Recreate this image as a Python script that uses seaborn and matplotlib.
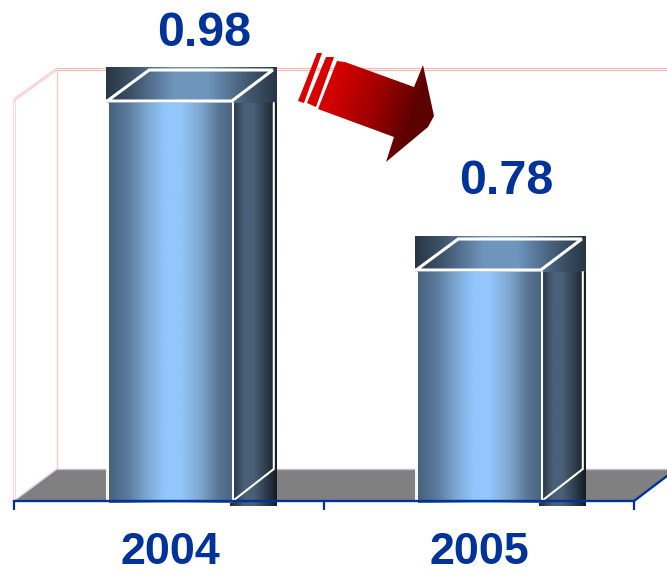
import numpy as np
import pandas as pd
import matplotlib
matplotlib.use("Agg")
import matplotlib.pyplot as plt
from matplotlib.colors import LinearSegmentedColormap
from matplotlib.patches import Polygon
from matplotlib.transforms import Affine2D
import seaborn as sns

years = ["2004", "2005"]
values = [0.98, 0.78]

W, H = 667, 571
BLUE = "#003399"
sns.set_theme(style="white")
plt.rcParams["font.family"] = ["Liberation Sans", "DejaVu Sans"]

fig = plt.figure(figsize=(W / 100, H / 100), dpi=100, facecolor="white")
# background layer in pixel coordinates: chart walls and floor
bg = fig.add_axes([0, 0, 1, 1], zorder=0)
bg.set_xlim(0, W)
bg.set_ylim(H, 0)
bg.axis("off")
bg.add_patch(Polygon([(14, 501), (57, 469), (667, 469), (667, 476), (634, 501)], color="#808080", lw=0))
for y in (68, 70):
    bg.plot([57, 667], [y, y], color="#f6bcbc", lw=0.9)
bg.plot([57, 57], [69, 469], color="#f3c8cc", lw=1)
bg.plot([13, 13], [100, 501], color="#f3dcdc", lw=0.8)
bg.plot([15, 15], [100, 501], color="#f3dcdc", lw=0.8)
bg.plot([14, 57], [99, 68], color="#f6c8c8", lw=0.8)
bg.plot([14, 57], [101, 70], color="#f6c8c8", lw=0.8)
bg.plot([57, 667], [468.5, 468.5], color="#cdb8c8", lw=1)
bg.plot([14, 57], [501, 469], color="#d8c8dc", lw=1)

# main axes: x from 14 to 634 px, y baseline at 501 px
ax = fig.add_axes([14 / W, (H - 501) / H, 620 / W, 501 / H], zorder=1)
ax.patch.set_alpha(0)
df = pd.DataFrame({"year": years, "value": values})
sns.barplot(data=df, x="year", y="value", color="#6f95bd", width=0.4, saturation=1, ax=ax)

SCALE_X, SCALE_Y = 309.0, 845.0
x_lo = -(170 - 14) / SCALE_X
x_hi = x_lo + 620 / SCALE_X
y_lo = 0.98 - (501 - 101) / SCALE_Y
y_hi = y_lo + 501 / SCALE_Y
ax.set_xlim(x_lo, x_hi)
ax.set_ylim(y_lo, y_hi)
ax.set_autoscale_on(False)
ax.set_xlabel("")
ax.set_ylabel("")
ax.set_yticks([])
for side in ("top", "left", "right"):
    ax.spines[side].set_visible(False)
ax.spines["bottom"].set_color(BLUE)
ax.spines["bottom"].set_linewidth(1.7)
ax.spines["bottom"].set_zorder(10)
ax.set_xticks([0, 1], years)
ax.set_xticks([x_lo, (x_lo + x_hi) / 2, x_hi], minor=True)
ax.tick_params(axis="x", which="major", length=0, pad=22, labelsize=32.3, labelcolor=BLUE)
ax.tick_params(axis="x", which="minor", length=6.5, width=1.6, color=BLUE, bottom=True)
for t in ax.get_xticklabels():
    t.set_fontweight("bold")

to_px = Affine2D().scale(1, -1).translate(0, H)  # image-style pixel coordinates to display


def p2d(x, y):
    disp = to_px.transform((x, y))
    return ax.transData.inverted().transform(disp)


def gradient(x0, x1, y0, y1, stops, z):
    cmap = LinearSegmentedColormap.from_list("g", stops, N=256)
    (dx0, dy0), (dx1, dy1) = p2d(x0, y1), p2d(x1, y0)
    img = np.linspace(0, 1, 256)[None, :]
    ax.imshow(img, cmap=cmap, extent=[dx0, dx1, dy0, dy1], aspect="auto",
              origin="lower", zorder=z, clip_on=False, interpolation="bilinear")


FRONT = [(0, "#46627f"), (.15, "#5b7a9c"), (.3, "#7ca6d0"), (.45, "#93c6fc"),
         (.58, "#93c6fc"), (.74, "#7fa6cf"), (.88, "#5a7895"), (1, "#46627f")]
SIDE = [(0, "#1f2a36"), (.3, "#4a6078"), (.5, "#4a6078"), (.8, "#2a3846"), (1, "#141c24")]
TOP = [(0, "#283644"), (.15, "#3c5268"), (.4, "#6f95bd"), (.6, "#6f95bd"), (.8, "#47607a"), (1, "#283644")]

DX, DY = 42, 32
for bar, val in zip(ax.patches, values):
    x0d, x1d = bar.get_x(), bar.get_x() + bar.get_width()
    L = to_px.inverted().transform(ax.transData.transform((x0d, val)))[0]
    R = to_px.inverted().transform(ax.transData.transform((x1d, val)))[0]
    T = to_px.inverted().transform(ax.transData.transform((x0d, val)))[1]
    B = 501
    gradient(R - 2, R + 45, T + 1, B + 5, SIDE, 3)
    gradient(L + 0.5, R, T + 1, B + 2, FRONT, 4)
    gradient(L - 2, R + 45, T - 34, T + 2, TOP, 5)
    white = dict(color="white", solid_joinstyle="miter", zorder=6, clip_on=False, transform=to_px)
    ax.plot([L - 1, L + DX - 1, R + DX - 1, R, L - 1], [T, T - DY + 1, T - DY + 1, T, T], lw=2.2, **white)
    ax.plot([R + 1, R + 1], [T + 2, B], lw=1.5, **white)
    ax.plot([R + DX, R + DX, R + 1], [T + 2, B - DY, B], lw=1.5, **white)
    ax.plot([L - 1, L - 1], [T + 2, B], lw=1.3, **white)

# value labels, offset up and to the right of the bars
offsets = [(34, 67), (27, 89)]
for i, (val, off) in enumerate(zip(values, offsets)):
    ax.annotate(f"{val:.2f}", xy=(i, val), xytext=(off[0] * .72, off[1] * .72), textcoords="offset points",
                ha="center", va="center", fontsize=34.8, fontweight="bold", color=BLUE,
                annotation_clip=False, zorder=12)

# right end of floor edge, in blue
ax.plot([634, 667], [501, 476], color=BLUE, lw=1.7, transform=to_px, clip_on=False, zorder=10)

# decorative red arrow
ov = fig.add_axes([0, 0, 1, 1], zorder=2)
ov.set_xlim(0, W)
ov.set_ylim(H, 0)
ov.axis("off")
ov.patch.set_alpha(0)
xx, yy = np.meshgrid(np.arange(290, 440), np.arange(45, 170))
grad = (xx - 300) * 0.94 + (yy - 60) * 0.34
red = LinearSegmentedColormap.from_list("r", ["#e00000", "#d20000", "#a00000", "#5c0000"])
shapes = [
    [(337, 61), (345, 62), (414, 87), (423, 65), (434, 116), (428, 127), (386, 162), (394, 137), (318, 109)],
    [(326, 57), (334, 57), (316, 107), (307, 103)],
    [(317, 53), (322, 53), (304, 103), (298, 101)],
]
for pts in shapes:
    poly = Polygon(pts, transform=ov.transData, fc="none", ec="none")
    ov.add_patch(poly)
    im = ov.imshow(grad, cmap=red, vmin=0, vmax=125, extent=[290, 440, 170, 45], aspect="auto",
                   interpolation="bilinear")
    im.set_clip_path(poly)
ov.set_xlim(0, W)
ov.set_ylim(H, 0)

fig.savefig("out.png", dpi=100)
